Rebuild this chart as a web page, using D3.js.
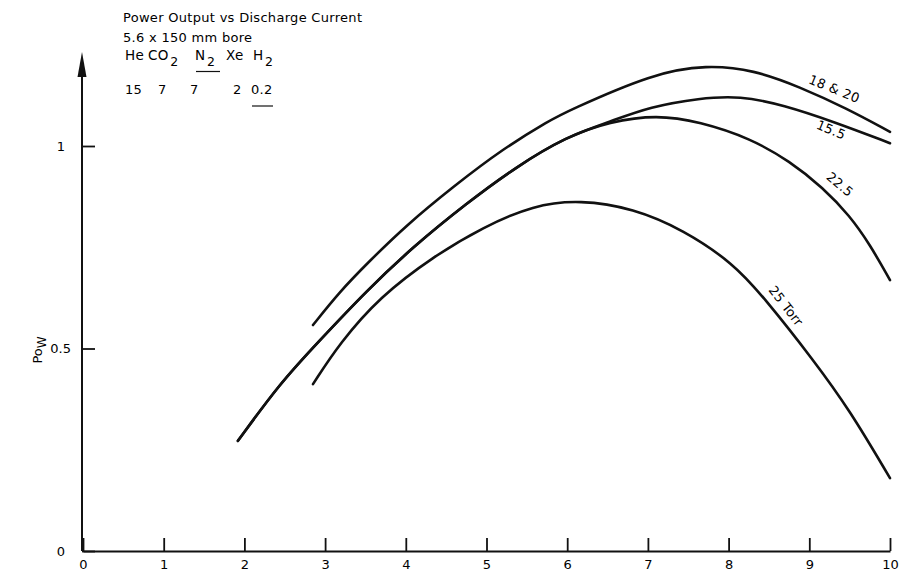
<!DOCTYPE html>
<html>
<head>
<meta charset="utf-8">
<script src="https://cdn.jsdelivr.net/npm/d3@7"></script>
<style>
  html, body { margin: 0; padding: 0; background: #fff; }
  svg text { font-family: "DejaVu Sans", "Open Sans", sans-serif; fill: #000; }
</style>
</head>
<body>
<svg id="chart" width="906" height="575"></svg>
<script>
// ---- data ----
const xTicks = [0, 1, 2, 3, 4, 5, 6, 7, 8, 9, 10];
const yTicks = [0, 0.5, 1];
const yTickLabels = ["0", "0.5", "1"];

const seriesNames = ["18 & 20", "15.5", "22.5", "25 Torr"];

const x18 = [2.85, 3.18, 3.52, 4.01, 4.59, 5.21, 5.79, 5.99, 7.07, 7.73, 8.31, 8.88, 9.46, 10.0];
const y18 = [0.558, 0.640, 0.71, 0.805, 0.90, 0.994, 1.064, 1.085, 1.18, 1.20, 1.188, 1.146, 1.093, 1.035];

const x155 = [1.92, 2.44, 2.90, 3.52, 4.09, 4.75, 5.37, 5.99, 6.53, 7.03, 7.64, 8.14, 8.68, 9.30, 10.0];
const y155 = [0.272, 0.414, 0.513, 0.644, 0.751, 0.858, 0.949, 1.023, 1.06, 1.097, 1.118, 1.124, 1.101, 1.06, 1.007];

const x225 = [1.92, 2.44, 2.90, 3.52, 4.09, 4.75, 5.37, 5.99, 6.53, 7.11, 7.64, 8.27, 8.76, 9.17, 9.50, 9.75, 10.0];
const y225 = [0.272, 0.414, 0.513, 0.644, 0.751, 0.858, 0.949, 1.023, 1.06, 1.077, 1.06, 1.019, 0.962, 0.897, 0.828, 0.757, 0.669];

const x25 = [2.85, 3.18, 3.68, 4.34, 4.96, 5.58, 6.16, 6.82, 7.44, 8.06, 8.43, 9.05, 9.50, 10.0];
const y25 = [0.412, 0.513, 0.628, 0.727, 0.80, 0.854, 0.867, 0.846, 0.793, 0.71, 0.628, 0.472, 0.348, 0.18];

// label anchors in data units, with rotation
const labelX = [9.31, 9.27, 9.38, 8.71];
const labelY = [1.141, 1.04, 0.905, 0.605];
const labelAngle = [22, 22, 40, 52];

const titleLines = ["Power Output vs Discharge Current", "5.6 x 150 mm bore"];
const gasNames = [["He", ""], ["CO", "2"], ["N", "2"], ["Xe", ""], ["H", "2"]];
const gasValues = ["15", "7", "7", "2", "0.2"];

// ---- drawing ----
const svg = d3.select("#chart");
const x = d3.scaleLinear().domain([0, 10]).range([83, 890]);
const y = d3.scaleLinear().domain([0, 1]).range([551, 146]);
const FS = 13;
const LS = "0.3px";

// axes
const xAxis = d3.axisBottom(x).tickValues(xTicks).tickFormat(d3.format("d"))
  .tickSizeInner(-13).tickSizeOuter(0).tickPadding(6);
const gx = svg.append("g").attr("transform", `translate(0,${y(0)})`).call(xAxis);
gx.select(".domain").attr("stroke", "#111").attr("stroke-width", 2);
gx.selectAll(".tick line").attr("stroke", "#111").attr("stroke-width", 1.8);
gx.selectAll(".tick text").attr("font-size", FS).attr("dy", "0.95em")
  .style("font-family", "'DejaVu Sans', sans-serif").style("fill", "#000");

const yAxis = d3.axisLeft(y).tickValues(yTicks).tickFormat((d, i) => yTickLabels[i])
  .tickSizeInner(-13).tickSizeOuter(0).tickPadding(11);
const gy = svg.append("g").attr("transform", `translate(${x(0) - 1},0)`).call(yAxis);
gy.select(".domain").remove();
gy.selectAll(".tick line").attr("stroke", "#111").attr("stroke-width", 1.8);
gy.selectAll(".tick text").attr("font-size", FS)
  .attr("dx", d => d === 0.5 ? 0 : -6)
  .style("font-family", "'DejaVu Sans', sans-serif").style("fill", "#000");

// y axis line with arrow
svg.append("line").attr("x1", x(0) - 1).attr("x2", x(0) - 1)
  .attr("y1", y(0)).attr("y2", 70).attr("stroke", "#111").attr("stroke-width", 2);
svg.append("path")
  .attr("d", `M${x(0) - 1},52 L${x(0) - 5.5},77 L${x(0) + 3.5},77 Z`)
  .attr("fill", "#111");

// y label Po_W
const yl = svg.append("text").attr("transform", "translate(42,350) rotate(-90)")
  .attr("text-anchor", "middle").attr("font-size", FS);
yl.append("tspan").text("Po");
yl.append("tspan").attr("font-size", 12).attr("dy", 4).text("W");

// curves
const line = d3.line().x(d => x(d[0])).y(d => y(d[1])).curve(d3.curveBasis);
const allSeries = [
  d3.zip(x18, y18),
  d3.zip(x155, y155),
  d3.zip(x225, y225),
  d3.zip(x25, y25)
];
svg.append("g").selectAll("path").data(allSeries).join("path")
  .attr("d", line)
  .attr("fill", "none").attr("stroke", "#111").attr("stroke-width", 2.6)
  .attr("stroke-linecap", "round");

// curve labels
svg.append("g").selectAll("text").data(seriesNames).join("text")
  .attr("transform", (d, i) => `translate(${x(labelX[i])},${y(labelY[i])}) rotate(${labelAngle[i]})`)
  .attr("text-anchor", "middle").attr("dominant-baseline", "central")
  .attr("font-size", FS).style("letter-spacing", LS).text(d => d);

// title block
svg.append("g").selectAll("text").data(titleLines).join("text")
  .attr("x", 123).attr("y", (d, i) => 22 + i * 20)
  .attr("font-size", FS).style("letter-spacing", LS).text(d => d);

const gasX = [125, 148, 195, 226, 253];
const gt = svg.append("g");
gasNames.forEach((g, i) => {
  const t = gt.append("text").attr("x", gasX[i]).attr("y", 59.5).attr("font-size", 13.5)
    .style("letter-spacing", "0.3px");
  t.append("tspan").text(g[0]);
  if (g[1]) t.append("tspan").attr("dy", 6.5).attr("dx", 1.5).attr("font-size", 12.5).text(g[1]);
});
const valX = [125, 158, 190, 233, 251];
gt.selectAll(".val").data(gasValues).join("text").attr("class", "val")
  .attr("x", (d, i) => valX[i]).attr("y", 93.5).attr("font-size", FS)
  .style("letter-spacing", LS).text(d => d);
// underlines
gt.append("line").attr("x1", 196).attr("x2", 220).attr("y1", 71.5).attr("y2", 71.5)
  .attr("stroke", "#111").attr("stroke-width", 1.2);
gt.append("line").attr("x1", 252).attr("x2", 273).attr("y1", 106).attr("y2", 106)
  .attr("stroke", "#111").attr("stroke-width", 1.2);
</script>
</body>
</html>
